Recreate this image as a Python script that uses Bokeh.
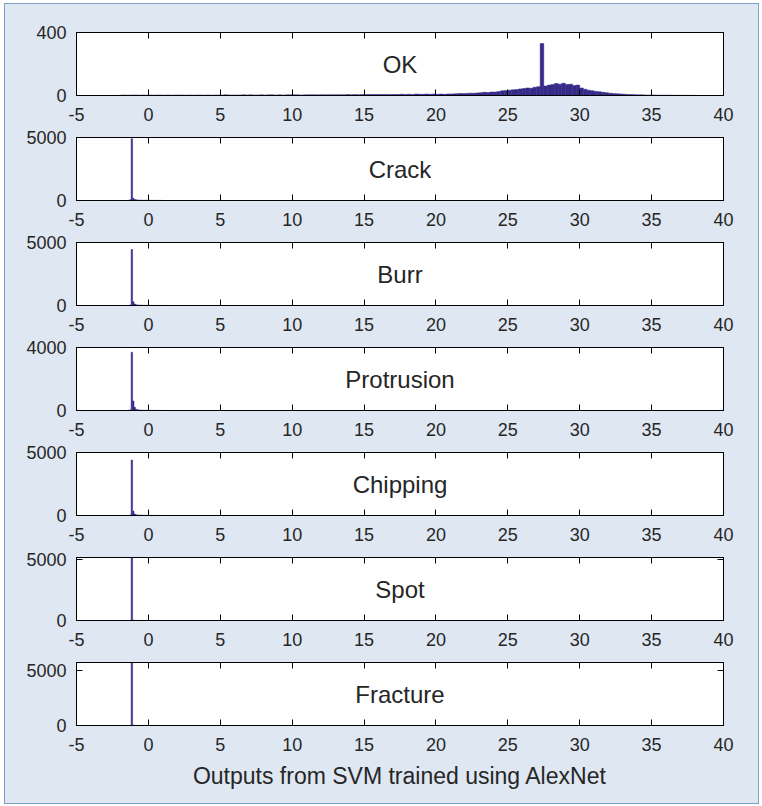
from bokeh.plotting import figure
from bokeh.layouts import column
from bokeh.models import LinearAxis, FixedTicker, Range1d, Label
from bokeh.embed import file_html
from bokeh.resources import INLINE

# ---------------- data ----------------
X_START, X_END = -5, 40
X_TICKS = [-5, 0, 5, 10, 15, 20, 25, 30, 35, 40]

CLASSES = ["OK", "Crack", "Burr", "Protrusion", "Chipping", "Spot", "Fracture"]
Y_MAX = [400, 5000, 5000, 4000, 5000, 5150, 5750]
Y_TOP_TICK = [400, 5000, 5000, 4000, 5000, 5000, 5000]

# OK class: histogram with 0.25 wide bins from -2 to 38 (one row per unit)
OK_BIN_START = -2.0
OK_BIN_WIDTH = 0.25
OK_COUNTS = [
    2, 3, 2, 3,      # -2
    3, 2, 3, 2,      # -1
    3, 2, 3, 3,      # 0
    2, 3, 2, 3,      # 1
    3, 3, 2, 3,      # 2
    2, 3, 3, 2,      # 3
    3, 2, 3, 3,      # 4
    3, 4, 3, 3,      # 5
    3, 3, 4, 3,      # 6
    4, 3, 3, 4,      # 7
    3, 4, 4, 3,      # 8
    4, 3, 4, 4,      # 9
    4, 4, 3, 4,      # 10
    4, 5, 4, 4,      # 11
    5, 4, 5, 4,      # 12
    5, 5, 4, 6,      # 13
    5, 6, 5, 6,      # 14
    6, 7, 6, 7,      # 15
    6, 7, 7, 6,      # 16
    7, 6, 8, 7,      # 17
    8, 7, 9, 8,      # 18
    8, 9, 8, 9,      # 19
    8, 9, 8, 10,     # 20
    10, 11, 12, 12,  # 21
    13, 15, 14, 16,  # 22
    18, 20, 19, 22,  # 23
    22, 25, 30, 32,  # 24
    34, 36, 38, 42,  # 25
    44, 48, 46, 52,  # 26
    56, 330, 60, 66, # 27
    70, 76, 72, 78,  # 28
    70, 72, 64, 66,  # 29
    48, 40, 34, 30,  # 30
    26, 24, 20, 18,  # 31
    14, 12, 11, 10,  # 32
    8, 7, 6, 5,      # 33
    4, 4, 3, 3,      # 34
    3, 2, 2, 2,      # 35
    2, 2, 1, 1,      # 36
    1, 1, 1, 1,      # 37
]

# Defect classes: histogram with 0.1 wide bins from -1.5 to 1.0
SPIKE_BIN_START = -1.5
SPIKE_BIN_WIDTH = 0.1
CRACK_COUNTS = [0, 20, 60, 4900, 180, 80, 50, 40, 30, 30, 25, 20, 20,
                20, 15, 15, 15, 12, 12, 10, 10, 10, 8, 8, 8]
BURR_COUNTS = [0, 10, 40, 4450, 300, 120, 60, 40, 30, 25, 20, 15, 12,
               10, 10, 8, 8, 6, 6, 5, 5, 5, 4, 4, 4]
PROTRUSION_COUNTS = [0, 10, 40, 3700, 600, 200, 80, 50, 35, 25, 20, 15, 12,
                     10, 10, 8, 8, 6, 6, 5, 5, 5, 4, 4, 4]
CHIPPING_COUNTS = [0, 10, 40, 4400, 350, 120, 60, 40, 30, 25, 20, 15, 12,
                   10, 10, 8, 8, 6, 6, 5, 5, 5, 4, 4, 4]
SPOT_COUNTS = [0, 0, 0, 5150, 40, 20, 10, 8, 6, 5, 4, 4, 3,
               3, 3, 2, 2, 2, 2, 2, 2, 1, 1, 1, 1]
FRACTURE_COUNTS = [0, 0, 0, 5750, 30, 15, 10, 8, 6, 5, 4, 4, 3,
                   3, 3, 2, 2, 2, 2, 2, 2, 1, 1, 1, 1]

X_LABEL = "Outputs from SVM trained using AlexNet"

HIST = [
    (OK_BIN_START, OK_BIN_WIDTH, OK_COUNTS),
    (SPIKE_BIN_START, SPIKE_BIN_WIDTH, CRACK_COUNTS),
    (SPIKE_BIN_START, SPIKE_BIN_WIDTH, BURR_COUNTS),
    (SPIKE_BIN_START, SPIKE_BIN_WIDTH, PROTRUSION_COUNTS),
    (SPIKE_BIN_START, SPIKE_BIN_WIDTH, CHIPPING_COUNTS),
    (SPIKE_BIN_START, SPIKE_BIN_WIDTH, SPOT_COUNTS),
    (SPIKE_BIN_START, SPIKE_BIN_WIDTH, FRACTURE_COUNTS),
]

# ---------------- style ----------------
FONT = "Liberation Sans"
TEXT_COLOR = "#262626"
BG = "#dfe7f2"
BAR_COLOR = "#352a87"

figs = []
n = len(CLASSES)
for i, name in enumerate(CLASSES):
    first = i == 0
    last = i == n - 1
    p = figure(
        frame_width=647, frame_height=63,
        x_range=Range1d(X_START, X_END), y_range=Range1d(0, Y_MAX[i]),
        output_backend="svg", toolbar_location=None,
        min_border_left=71, min_border_right=35,
        min_border_top=28 if first else 12,
        min_border_bottom=78 if last else 30,
        background_fill_color="white", border_fill_color=BG,
        outline_line_color="black", outline_line_width=1,
    )
    p.xgrid.visible = False
    p.ygrid.visible = False

    start, width, counts = HIST[i]
    lefts = [start + k * width for k in range(len(counts))]
    rights = [l + width for l in lefts]
    p.quad(left=lefts, right=rights, bottom=0, top=counts,
           fill_color=BAR_COLOR, line_color=BAR_COLOR, line_width=0.5)

    xt = FixedTicker(ticks=X_TICKS, minor_ticks=[])
    yt = FixedTicker(ticks=[0, Y_TOP_TICK[i]], minor_ticks=[])

    xa = p.xaxis[0]
    xa.ticker = xt
    xa.major_label_overrides = {t: str(t) for t in X_TICKS}
    xa.major_tick_in = 6
    xa.major_tick_out = 0
    xa.major_label_standoff = 12
    xa.major_label_text_font = FONT
    xa.major_label_text_font_size = "18px"
    xa.major_label_text_color = TEXT_COLOR
    xa.axis_line_color = "black"
    xa.major_tick_line_color = "black"
    if last:
        xa.axis_label = X_LABEL
        xa.axis_label_text_font = FONT
        xa.axis_label_text_font_size = "23px"
        xa.axis_label_text_font_style = "normal"
        xa.axis_label_text_color = TEXT_COLOR
        xa.axis_label_standoff = 9

    ya = p.yaxis[0]
    ya.ticker = yt
    ya.major_label_overrides = {t: str(t) for t in [0, Y_TOP_TICK[i]]}
    ya.major_tick_in = 6
    ya.major_tick_out = 0
    ya.major_label_standoff = 10
    ya.major_label_text_font = FONT
    ya.major_label_text_font_size = "18px"
    ya.major_label_text_color = TEXT_COLOR
    ya.axis_line_color = "black"

    # mirrored tick marks (box on), no labels
    top_axis = LinearAxis(ticker=FixedTicker(ticks=X_TICKS, minor_ticks=[]),
                          major_label_text_font_size="1px",
                          major_label_text_color=None,
                          major_label_standoff=0,
                          major_tick_in=6, major_tick_out=0,
                          axis_line_color="black")
    p.add_layout(top_axis, "above")
    right_axis = LinearAxis(ticker=FixedTicker(ticks=[0, Y_TOP_TICK[i]], minor_ticks=[]),
                            major_label_text_font_size="1px",
                            major_label_text_color=None,
                            major_label_standoff=0,
                            major_tick_in=6, major_tick_out=0,
                            axis_line_color="black")
    p.add_layout(right_axis, "right")

    p.add_layout(Label(x=(X_START + X_END) / 2, y=Y_MAX[i] / 2, text=name,
                       text_align="center", text_baseline="middle",
                       text_font=FONT, text_font_size="24px",
                       text_color=TEXT_COLOR))
    figs.append(p)

layout = column(*figs, spacing=0,
                styles={"margin": "4px 0px 0px 5px",
                        "outline": "1px solid #7f9ec6",
                        "background-color": BG})

open("out.html", "w").write(file_html(layout, INLINE))
